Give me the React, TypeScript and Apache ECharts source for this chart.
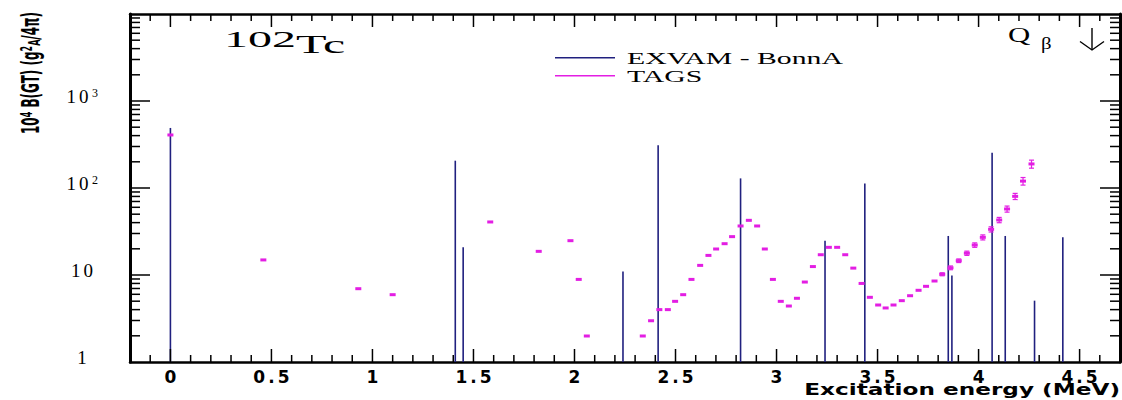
import React, { useEffect, useRef } from "react";
import * as echarts from "echarts";

// ---- data ----
const exvamEnergy = [0, 1.41, 1.449, 2.24, 2.414, 2.822, 3.24, 3.437, 3.85, 3.868, 4.067, 4.132, 4.277, 4.417];
const exvamBGT = [490, 206, 20.8, 11.0, 310, 129, 24.8, 113, 28.1, 9.9, 255, 28.1, 5.07, 27.1];

const tagsEnergy = [
  0, 0.46, 0.93, 1.1, 1.583, 1.823, 1.98, 2.021, 2.061, 2.338, 2.379, 2.42, 2.462, 2.498,
  2.538, 2.579, 2.622, 2.663, 2.701, 2.743, 2.78, 2.822, 2.863, 2.904, 2.942, 2.982, 3.021,
  3.061, 3.101, 3.14, 3.18, 3.219, 3.259, 3.3, 3.34, 3.38, 3.421, 3.462, 3.503, 3.54, 3.579,
  3.62, 3.661, 3.703, 3.74, 3.782, 3.82, 3.861, 3.902, 3.942, 3.981, 4.021, 4.062, 4.102,
  4.141, 4.181, 4.22, 4.262,
];
const tagsBGT = [
  407, 14.9, 6.96, 5.94, 40.7, 18.7, 24.8, 8.9, 1.99, 1.99, 2.98, 4.0, 4.0, 4.98,
  5.94, 8.9, 12.9, 16.8, 19.9, 22.9, 27.6, 36.6, 42.5, 36.6, 19.9, 8.9, 4.98,
  4.4, 5.4, 8.3, 12.5, 17.1, 20.8, 20.8, 17.1, 12.0, 8.0, 5.54, 4.52, 4.18, 4.52,
  5.07, 5.78, 6.67, 7.41, 8.53, 10.2, 12.1, 14.6, 17.8, 22.1, 27.1, 33.5, 42.9,
  57.4, 80.2, 120, 189,
];
const tagsErr = [
  0, 0, 0, 0, 0, 0, 0, 0, 0, 0, 0, 0, 0, 0,
  0, 0, 0, 0, 0, 0, 0, 0, 0, 0, 0, 0, 0,
  0, 0, 0, 0, 0, 0, 0, 0, 0, 0, 0, 0, 0, 0,
  0, 0, 0, 0, 0, 0.4, 0.6, 0.7, 1.0, 1.3, 1.8, 2.3, 3.0,
  4.6, 6.5, 12, 20,
];

const xTickLabels = [0, 0.5, 1, 1.5, 2, 2.5, 3, 3.5, 4, 4.5];
const yTickLabels = [1, 10, 100, 1000];
const xMin = -0.2;
const xMax = 4.7;
const yMin = 1;
const yMax = 10000;

const NAVY = "#20207f";
const MAGENTA = "#e31ee3";

// frame tick positions (axis structure)
const xMajorTicks = [...xTickLabels];
const xMinorTicks: number[] = [];
for (let i = -1; i <= 46; i++) if (i % 5 !== 0) xMinorTicks.push(i / 10);
const yMajorTicks = [10, 100, 1000];
const yMinorTicks: number[] = [];
for (let d = 1; d < 10000; d *= 10) for (let k = 2; k <= 9; k++) yMinorTicks.push(k * d);

// [x value, y value, tick length, kind (0 = x tick, 1 = y tick)]
// the other coordinate is an interior value; the frame edge comes from the grid rect
const tickData: number[][] = [
  ...xMajorTicks.map((v) => [v, 10, 13, 0]),
  ...xMinorTicks.map((v) => [v, 10, 7, 0]),
  ...yMajorTicks.map((v) => [1, v, 20, 1]),
  ...yMinorTicks.map((v) => [1, v, 10, 1]),
];

const chars = (s: string) =>
  s.split("").map((c) => (c === "." ? `{p|.}` : `{d|${c}}`)).join("");

export default function App() {
  const ref = useRef<HTMLDivElement>(null);
  useEffect(() => {
    if (!ref.current) return;
    const chart = echarts.init(ref.current, undefined, { renderer: "svg" });

    const frameLine = (w: number) => ({ show: true, onZero: false, lineStyle: { color: "#000", width: w } });

    const option: any = {
      animation: false,
      grid: { left: 130, top: 14, width: 990, height: 348 },
      xAxis: [
        {
          type: "value",
          min: xMin,
          max: xMax,
          position: "bottom",
          splitLine: { show: false },
          axisLine: frameLine(2.5),
          axisTick: { show: false },
          axisLabel: {
            show: true,
            customValues: xTickLabels,
            margin: 6,
            formatter: (v: number) => chars(String(v)),
            rich: {
              d: { fontFamily: "DejaVu Sans", fontWeight: "bold", fontSize: 17, color: "#000", padding: [0, 2.5, 0, 2.5] },
              p: { fontFamily: "DejaVu Sans", fontWeight: "bold", fontSize: 17, color: "#000", padding: [0, 0.5, 0, 0.5] },
            },
          },
        },
        {
          type: "value",
          min: xMin,
          max: xMax,
          position: "top",
          splitLine: { show: false },
          axisLine: frameLine(2.5),
          axisTick: { show: false },
          axisLabel: { show: false },
        },
      ],
      yAxis: [
        {
          type: "log",
          min: yMin,
          max: yMax,
          position: "left",
          splitLine: { show: false },
          axisLine: frameLine(3),
          axisTick: { show: false },
          axisLabel: {
            show: true,
            customValues: yTickLabels,
            align: "center",
            margin: 48,
            padding: [0, 0, 9, 0],
            formatter: (v: number) => {
              const e = Math.round(Math.log10(v));
              if (e <= 1) return chars(String(v));
              return chars("10") + `{s|${e}}`;
            },
            rich: {
              d: { fontFamily: "Liberation Serif", fontSize: 19, color: "#000", padding: [0, 1.5, 0, 1.5] },
              s: { fontFamily: "Liberation Serif", fontSize: 12, color: "#000", verticalAlign: "top", padding: [0, 1, 0, 2] },
            },
          },
        },
        {
          type: "log",
          min: yMin,
          max: yMax,
          position: "right",
          splitLine: { show: false },
          axisLine: frameLine(3),
          axisTick: { show: false },
          axisLabel: { show: false },
        },
      ],
      series: [
        {
          type: "custom",
          xAxisIndex: 0,
          yAxisIndex: 0,
          z: 100,
          data: tickData,
          encode: { x: 0, y: 1 },
          renderItem: (params: any, api: any) => {
            const cs = params.coordSys;
            const p = api.coord([api.value(0), api.value(1)]);
            const len = api.value(2);
            const kind = api.value(3);
            const top = cs.y;
            const bottom = cs.y + cs.height;
            const left = cs.x;
            const right = cs.x + cs.width;
            if (kind === 0) {
              return {
                type: "group",
                children: [
                  { type: "rect", shape: { x: p[0] - 0.75, y: bottom - len, width: 1.5, height: len }, style: { fill: "#000" } },
                  { type: "rect", shape: { x: p[0] - 0.75, y: top, width: 1.5, height: len }, style: { fill: "#000" } },
                ],
              };
            }
            return {
              type: "group",
              children: [
                { type: "rect", shape: { x: left, y: p[1] - 0.75, width: len, height: 1.5 }, style: { fill: "#000" } },
                { type: "rect", shape: { x: right - len, y: p[1] - 0.75, width: len, height: 1.5 }, style: { fill: "#000" } },
              ],
            };
          },
        },
        {
          name: "EXVAM - BonnA",
          type: "custom",
          xAxisIndex: 0,
          yAxisIndex: 0,
          data: exvamEnergy.map((e, i) => [e, exvamBGT[i]]),
          encode: { x: 0, y: 1 },
          renderItem: (params: any, api: any) => {
            const e = api.value(0);
            const v = api.value(1);
            const p0 = api.coord([e, yMin]);
            const p1 = api.coord([e, v]);
            return {
              type: "line",
              shape: { x1: p0[0], y1: p0[1], x2: p1[0], y2: p1[1] },
              style: { stroke: NAVY, lineWidth: 1.6 },
            };
          },
        },
        {
          name: "TAGS",
          type: "custom",
          xAxisIndex: 0,
          yAxisIndex: 0,
          data: tagsEnergy.map((e, i) => [e, tagsBGT[i], tagsErr[i]]),
          encode: { x: 0, y: 1 },
          renderItem: (params: any, api: any) => {
            const e = api.value(0);
            const v = api.value(1);
            const err = api.value(2);
            const c = api.coord([e, v]);
            const children: any[] = [
              { type: "rect", shape: { x: c[0] - 3, y: c[1] - 1.5, width: 6, height: 3 }, style: { fill: MAGENTA } },
            ];
            if (err > 0) {
              const t = api.coord([e, v + err]);
              const b = api.coord([e, v - err]);
              children.push({ type: "line", shape: { x1: c[0], y1: t[1], x2: c[0], y2: b[1] }, style: { stroke: MAGENTA, lineWidth: 1.2 } });
              children.push({ type: "line", shape: { x1: c[0] - 2.5, y1: t[1], x2: c[0] + 2.5, y2: t[1] }, style: { stroke: MAGENTA, lineWidth: 1.2 } });
              children.push({ type: "line", shape: { x1: c[0] - 2.5, y1: b[1], x2: c[0] + 2.5, y2: b[1] }, style: { stroke: MAGENTA, lineWidth: 1.2 } });
            }
            return { type: "group", children };
          },
        },
      ],
      graphic: [
        // nucleus label
        { type: "text", x: 224, y: 39, scaleX: 2, style: { text: "102", fontFamily: "Liberation Serif", fontSize: 24, fill: "#000", align: "left", verticalAlign: "middle" } },
        { type: "text", x: 296, y: 44.5, scaleX: 2, style: { text: "Tc", fontFamily: "Liberation Serif", fontSize: 25, fill: "#000", align: "left", verticalAlign: "middle" } },
        // Q beta and arrow
        { type: "text", x: 1008, y: 34.5, scaleX: 1.4, style: { text: "Q", fontFamily: "Liberation Serif", fontSize: 22, fill: "#000", align: "left", verticalAlign: "middle" } },
        { type: "text", x: 1041, y: 43, scaleX: 1.3, style: { text: "β", fontFamily: "Liberation Serif", fontSize: 16, fill: "#000", align: "left", verticalAlign: "middle" } },
        { type: "line", shape: { x1: 1092, y1: 28, x2: 1092, y2: 50 }, style: { stroke: "#000", lineWidth: 1.4 } },
        { type: "polyline", shape: { points: [[1080, 41.5], [1092, 50], [1104, 41.5]] }, style: { stroke: "#000", lineWidth: 1.4, fill: "none" } },
        // legend
        { type: "line", shape: { x1: 555, y1: 57.7, x2: 615, y2: 57.7 }, style: { stroke: NAVY, lineWidth: 1.6 } },
        { type: "line", shape: { x1: 555, y1: 75.7, x2: 615, y2: 75.7 }, style: { stroke: MAGENTA, lineWidth: 1.6 } },
        { type: "text", x: 627, y: 57.7, scaleX: 1.75, style: { text: "EXVAM - BonnA", fontFamily: "Liberation Serif", fontSize: 17, fill: "#000", align: "left", verticalAlign: "middle" } },
        { type: "text", x: 627, y: 75.7, scaleX: 1.75, style: { text: "TAGS", fontFamily: "Liberation Serif", fontSize: 17, fill: "#000", align: "left", verticalAlign: "middle" } },
        // axis titles
        { type: "text", x: 1120, y: 390, scaleX: 1.45, style: { text: "Excitation energy (MeV)", fontFamily: "DejaVu Sans", fontWeight: "bold", fontSize: 16, fill: "#000", align: "right", verticalAlign: "middle" } },
        {
          type: "text",
          x: 30,
          y: 73,
          rotation: Math.PI / 2,
          scaleY: 2,
          style: {
            text: "{n|10}{s|4}{n| B(GT) (g}{s|2}{b|A}{n|/4π)}",
            align: "center",
            verticalAlign: "middle",
            rich: {
              n: { fontFamily: "DejaVu Sans", fontWeight: "bold", fontSize: 12, fill: "#000" },
              s: { fontFamily: "DejaVu Sans", fontWeight: "bold", fontSize: 8, fill: "#000", verticalAlign: "top" },
              b: { fontFamily: "DejaVu Sans", fontWeight: "bold", fontSize: 8, fill: "#000", verticalAlign: "bottom" },
            },
          },
        },
      ],
    };
    chart.setOption(option);
    return () => chart.dispose();
  }, []);
  return (
    <div
      ref={ref}
      style={{ position: "absolute", left: 0, top: 0, width: 1122, height: 400, background: "#fff" }}
    />
  );
}
